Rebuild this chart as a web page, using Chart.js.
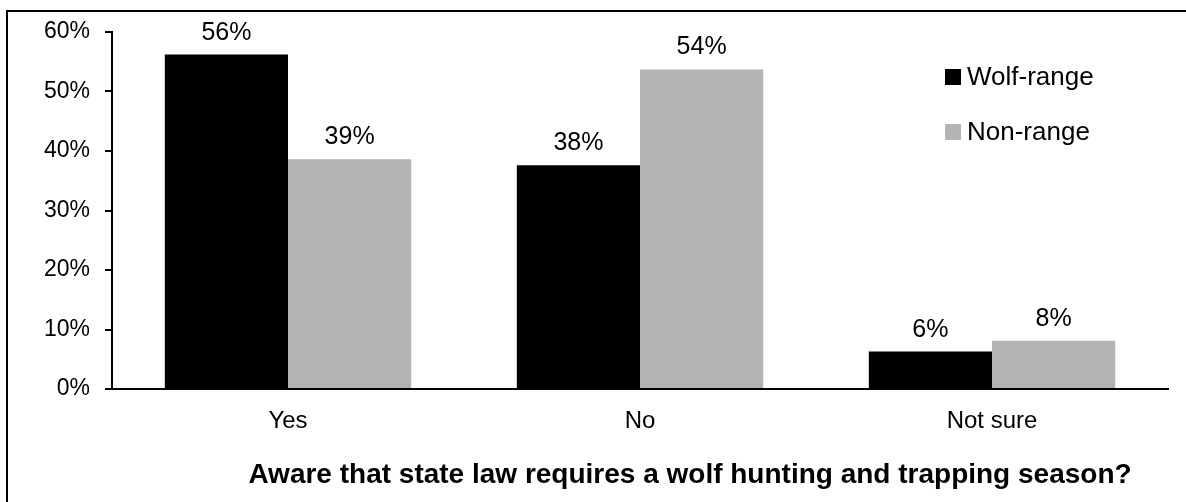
<!DOCTYPE html>
<html>
<head>
<meta charset="utf-8">
<script src="https://cdn.jsdelivr.net/npm/chart.js@4/dist/chart.umd.min.js"></script>
<style>
  html, body { margin: 0; padding: 0; background: #fff; }
  #wrap { width: 1186px; height: 502px; position: relative; }
</style>
</head>
<body>
<div id="wrap"><canvas id="c" width="1186" height="502"></canvas></div>
<script>
const categories = ["Yes", "No", "Not sure"];
const seriesNames = ["Wolf-range", "Non-range"];
const wolfRange = [56.2, 37.6, 6.3];
const nonRange = [38.6, 53.7, 8.1];
const yTicks = [0, 10, 20, 30, 40, 50, 60];
const axisTitle = "Aware that state law requires a wolf hunting and trapping season?";
const colors = ["#000000", "#B3B3B3"];

const FONT = "'Liberation Sans', Arial, Helvetica, sans-serif";

const framePlugin = {
  id: 'frame',
  beforeDraw(chart) {
    const ctx = chart.ctx;
    ctx.save();
    ctx.fillStyle = '#fff';
    ctx.fillRect(0, 0, chart.width, chart.height);
    ctx.strokeStyle = '#000';
    ctx.lineWidth = 2;
    ctx.beginPath();
    ctx.moveTo(7, chart.height);
    ctx.lineTo(7, 11);
    ctx.lineTo(chart.width, 11);
    ctx.stroke();
    ctx.restore();
  }
};

const valueLabels = {
  id: 'valueLabels',
  afterDatasetsDraw(chart) {
    const ctx = chart.ctx;
    ctx.save();
    ctx.font = "25px " + FONT;
    ctx.fillStyle = '#000';
    ctx.textAlign = 'center';
    ctx.textBaseline = 'alphabetic';
    chart.data.datasets.forEach((ds, di) => {
      const meta = chart.getDatasetMeta(di);
      meta.data.forEach((el, i) => {
        ctx.fillText(Math.round(ds.data[i]) + '%', el.x, el.y - 15);
      });
    });
    ctx.restore();
  }
};

const customLegend = {
  id: 'customLegend',
  afterDraw(chart) {
    const ctx = chart.ctx;
    const area = chart.chartArea;
    const boxX = area.right - 223;
    const firstY = area.top + 45;
    const step = 55;
    ctx.save();
    ctx.font = "26px " + FONT;
    ctx.textBaseline = 'middle';
    ctx.textAlign = 'left';
    chart.data.datasets.forEach((ds, i) => {
      const cy = firstY + i * step;
      ctx.fillStyle = ds.backgroundColor;
      ctx.fillRect(boxX, cy - 8, 16, 16);
      ctx.fillStyle = '#000';
      ctx.fillText(ds.label, boxX + 22, cy + 1);
    });
    ctx.restore();
  }
};

const bottomTitle = {
  id: 'bottomTitle',
  afterDraw(chart) {
    const ctx = chart.ctx;
    const area = chart.chartArea;
    ctx.save();
    ctx.font = "bold 28px " + FONT;
    ctx.fillStyle = '#000';
    ctx.textAlign = 'center';
    ctx.textBaseline = 'middle';
    ctx.fillText(axisTitle, (area.left + area.right) / 2 + 50, 475);
    ctx.restore();
  }
};

new Chart(document.getElementById('c'), {
  type: 'bar',
  data: {
    labels: categories,
    datasets: [
      { label: seriesNames[0], data: wolfRange, backgroundColor: colors[0] },
      { label: seriesNames[1], data: nonRange, backgroundColor: colors[1] }
    ]
  },
  options: {
    responsive: false,
    animation: false,
    events: [],
    layout: { padding: { top: 32, right: 18, left: 0, bottom: 0 } },
    datasets: { bar: { categoryPercentage: 0.7, barPercentage: 1.0 } },
    plugins: {
      legend: { display: false },
      tooltip: { enabled: false }
    },
    scales: {
      x: {
        grid: { display: false, drawTicks: false },
        border: { display: true, color: '#000', width: 2 },
        ticks: { color: '#000', font: { family: FONT, size: 24 }, padding: 18 },
        afterFit(scale) { scale.height = 113; }
      },
      y: {
        min: 0,
        max: 60,
        afterBuildTicks(scale) { scale.ticks = yTicks.map(v => ({ value: v })); },
        grid: { drawOnChartArea: false, drawTicks: true, tickLength: 7, color: '#000', lineWidth: 2 },
        border: { display: true, color: '#000', width: 2 },
        ticks: {
          color: '#000',
          font: { family: FONT, size: 23 },
          padding: 15,
          callback: v => v + '%'
        },
        afterFit(scale) { scale.width = 112; }
      }
    }
  },
  plugins: [framePlugin, valueLabels, customLegend, bottomTitle]
});
</script>
</body>
</html>
